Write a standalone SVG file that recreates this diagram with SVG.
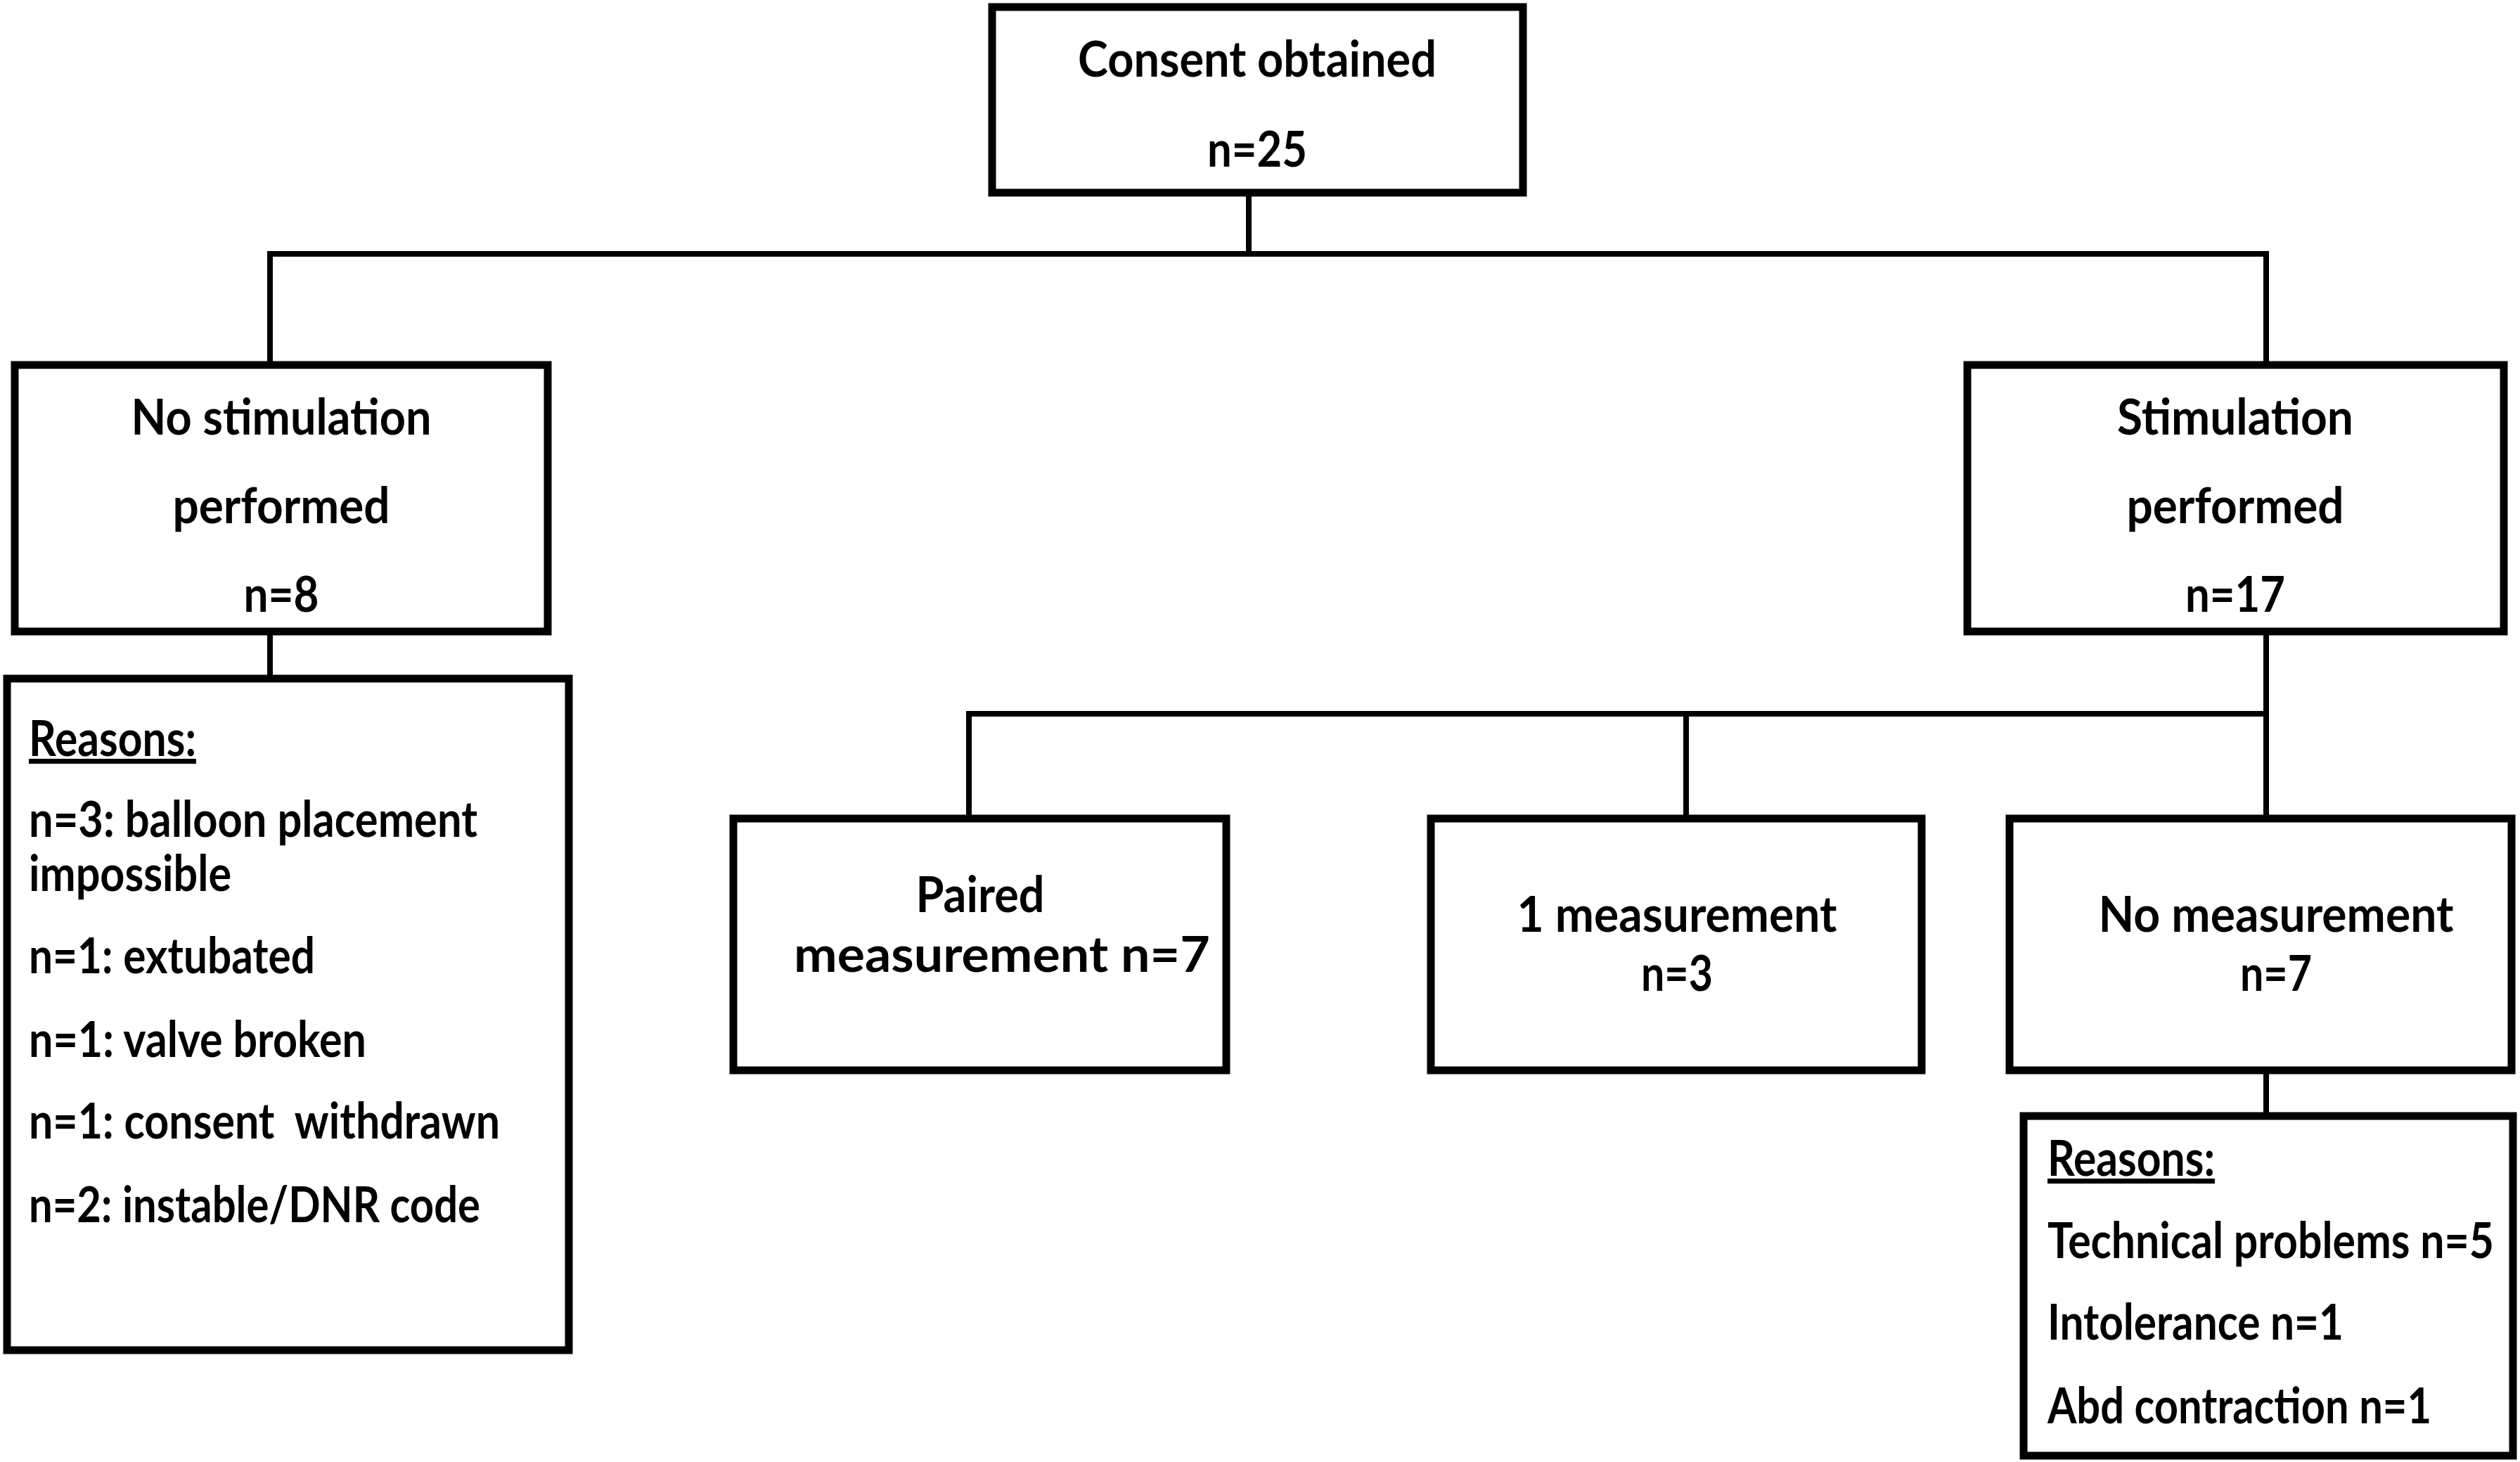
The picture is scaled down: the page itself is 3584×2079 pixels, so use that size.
<svg xmlns="http://www.w3.org/2000/svg" width="3584" height="2079" viewBox="0 0 3584 2079">
<style>
.box{fill:#fff;stroke:#000;stroke-width:11}
.con{fill:none;stroke:#000;stroke-width:8;stroke-linecap:square}
text{font-family:Lato,"Open Sans","Liberation Sans",sans-serif;font-weight:bold;font-size:71px;fill:#000}
.c{text-anchor:middle}
.u{text-decoration:underline}
</style>
<rect width="3584" height="2079" fill="#fff"/>
<g id="connectors">
<path class="con" d="M1776 279V361M384 361H3223M384 361V514M3223 361V514M384 903V960M3223 903V1159M1378 1015H3223M1378 1015V1159M2398 1015V1159M3223 1527V1582"/>
</g>
<g id="consent">
<rect class="box" x="1411" y="10" width="755" height="264"/>
<text class="c" x="1788" y="109" textLength="510" lengthAdjust="spacingAndGlyphs">Consent obtained</text>
<text class="c" x="1788" y="237" textLength="142" lengthAdjust="spacingAndGlyphs">n=25</text>
</g>
<g id="no-stimulation">
<rect class="box" x="21" y="519" width="758" height="379"/>
<text class="c" x="400" y="618" textLength="427" lengthAdjust="spacingAndGlyphs">No stimulation</text>
<text class="c" x="400" y="744" textLength="309" lengthAdjust="spacingAndGlyphs">performed</text>
<text class="c" x="400" y="870" textLength="107" lengthAdjust="spacingAndGlyphs">n=8</text>
</g>
<g id="stimulation">
<rect class="box" x="2798" y="519" width="763" height="379"/>
<text class="c" x="3179" y="618" textLength="336" lengthAdjust="spacingAndGlyphs">Stimulation</text>
<text class="c" x="3179" y="744" textLength="309" lengthAdjust="spacingAndGlyphs">performed</text>
<text class="c" x="3179" y="870" textLength="142" lengthAdjust="spacingAndGlyphs">n=17</text>
</g>
<g id="reasons-left">
<rect class="box" x="10" y="965" width="799" height="955"/>
<text class="u" x="41" y="1075" textLength="238" lengthAdjust="spacingAndGlyphs">Reasons:</text>
<text x="41" y="1190" textLength="638" lengthAdjust="spacingAndGlyphs">n=3: balloon placement</text>
<text x="41" y="1267" textLength="288" lengthAdjust="spacingAndGlyphs">impossible</text>
<text x="41" y="1384" textLength="407" lengthAdjust="spacingAndGlyphs">n=1: extubated</text>
<text x="41" y="1503" textLength="480" lengthAdjust="spacingAndGlyphs">n=1: valve broken</text>
<text x="41" y="1619" textLength="670" lengthAdjust="spacingAndGlyphs" xml:space="preserve">n=1: consent  withdrawn</text>
<text x="41" y="1738" textLength="642" lengthAdjust="spacingAndGlyphs">n=2: instable/DNR code</text>
</g>
<g id="paired">
<rect class="box" x="1043" y="1164" width="701" height="358"/>
<text class="c" x="1394" y="1297" textLength="183" lengthAdjust="spacingAndGlyphs">Paired</text>
<text class="c" x="1425" y="1382" textLength="592" lengthAdjust="spacingAndGlyphs">measurement n=7</text>
</g>
<g id="one-measurement">
<rect class="box" x="2035" y="1164" width="698" height="358"/>
<text class="c" x="2385" y="1325" textLength="455" lengthAdjust="spacingAndGlyphs">1 measurement</text>
<text class="c" x="2385" y="1409" textLength="102" lengthAdjust="spacingAndGlyphs">n=3</text>
</g>
<g id="no-measurement">
<rect class="box" x="2858" y="1164" width="714" height="358"/>
<text class="c" x="3237" y="1325" textLength="505" lengthAdjust="spacingAndGlyphs">No measurement</text>
<text class="c" x="3237" y="1409" textLength="102" lengthAdjust="spacingAndGlyphs">n=7</text>
</g>
<g id="reasons-right">
<rect class="box" x="2878" y="1587" width="696" height="483"/>
<text class="u" x="2912" y="1672" textLength="238" lengthAdjust="spacingAndGlyphs">Reasons:</text>
<text x="2912" y="1789" textLength="635" lengthAdjust="spacingAndGlyphs">Technical problems n=5</text>
<text x="2912" y="1905" textLength="421" lengthAdjust="spacingAndGlyphs">Intolerance n=1</text>
<text x="2912" y="2024" textLength="546" lengthAdjust="spacingAndGlyphs">Abd contraction n=1</text>
</g>
</svg>
